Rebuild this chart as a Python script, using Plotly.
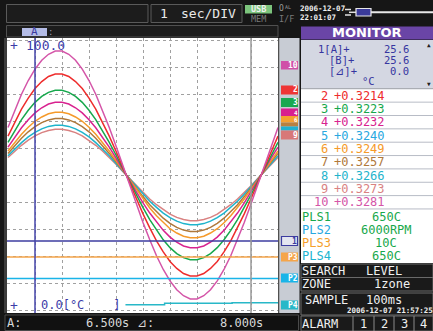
import plotly.graph_objects as go

W, H = 433, 331
MONO = "DejaVu Sans Mono"

# ---------------- data ----------------
time_s = [0, 0.25, 0.5, 0.75, 1, 1.25, 1.5, 1.75, 2, 2.25, 2.5, 2.75, 3, 3.25, 3.5, 3.75,
          4, 4.25, 4.5, 4.75, 5, 5.25, 5.5, 5.75, 6, 6.25, 6.5, 6.75, 7, 7.25, 7.5, 7.75,
          8, 8.25, 8.5, 8.75, 9, 9.25, 9.5, 9.75, 10]

ch10 = [67.6, 74.0, 79.9, 85.0, 89.2, 92.5, 94.7, 95.9, 95.9, 94.7, 92.5, 89.2, 85.0, 79.9, 74.0, 67.6,
        60.7, 53.6, 46.4, 39.3, 32.4, 26.0, 20.1, 15.0, 10.8, 7.5, 5.3, 4.1, 4.1, 5.3, 7.5, 10.8,
        15.0, 20.1, 26.0, 32.4, 39.3, 46.4, 53.6, 60.7, 67.6]
ch2 = [64.4, 69.6, 74.4, 78.5, 82.0, 84.6, 86.5, 87.4, 87.4, 86.5, 84.6, 82.0, 78.5, 74.4, 69.6, 64.4,
       58.8, 52.9, 47.1, 41.2, 35.6, 30.4, 25.6, 21.5, 18.0, 15.4, 13.5, 12.6, 12.6, 13.5, 15.4, 18.0,
       21.5, 25.6, 30.4, 35.6, 41.2, 47.1, 52.9, 58.8, 64.4]
ch3 = [62.1, 66.5, 70.5, 74.0, 76.9, 79.1, 80.6, 81.4, 81.4, 80.6, 79.1, 76.9, 74.0, 70.5, 66.5, 62.1,
       57.4, 52.5, 47.5, 42.6, 37.9, 33.5, 29.5, 26.0, 23.1, 20.9, 19.4, 18.6, 18.6, 19.4, 20.9, 23.1,
       26.0, 29.5, 33.5, 37.9, 42.6, 47.5, 52.5, 57.4, 62.1]
ch4 = [60.3, 64.1, 67.5, 70.5, 73.0, 74.9, 76.3, 76.9, 76.9, 76.3, 74.9, 73.0, 70.5, 67.5, 64.1, 60.3,
       56.3, 52.1, 47.9, 43.7, 39.7, 35.9, 32.5, 29.5, 27.0, 25.1, 23.7, 23.1, 23.1, 23.7, 25.1, 27.0,
       29.5, 32.5, 35.9, 39.7, 43.7, 47.9, 52.1, 56.3, 60.3]
ch6 = [58.9, 62.2, 65.1, 67.7, 69.9, 71.5, 72.7, 73.2, 73.2, 72.7, 71.5, 69.9, 67.7, 65.1, 62.2, 58.9,
       55.4, 51.8, 48.2, 44.6, 41.1, 37.8, 34.9, 32.3, 30.1, 28.5, 27.3, 26.8, 26.8, 27.3, 28.5, 30.1,
       32.3, 34.9, 37.8, 41.1, 44.6, 48.2, 51.8, 55.4, 58.9]
ch7 = [58.0, 61.0, 63.6, 66.0, 67.9, 69.4, 70.4, 70.9, 70.9, 70.4, 69.4, 67.9, 66.0, 63.6, 61.0, 58.0,
       54.9, 51.6, 48.4, 45.1, 42.0, 39.0, 36.4, 34.0, 32.1, 30.6, 29.6, 29.1, 29.1, 29.6, 30.6, 32.1,
       34.0, 36.4, 39.0, 42.0, 45.1, 48.4, 51.6, 54.9, 58.0]
ch8 = [57.1, 59.7, 62.0, 64.1, 65.8, 67.1, 68.0, 68.4, 68.4, 68.0, 67.1, 65.8, 64.1, 62.0, 59.7, 57.1,
       54.3, 51.5, 48.5, 45.7, 42.9, 40.3, 38.0, 35.9, 34.2, 32.9, 32.0, 31.6, 31.6, 32.0, 32.9, 34.2,
       35.9, 38.0, 40.3, 42.9, 45.7, 48.5, 51.5, 54.3, 57.1]
ch9 = [56.5, 58.9, 61.0, 62.9, 64.5, 65.7, 66.5, 66.9, 66.9, 66.5, 65.7, 64.5, 62.9, 61.0, 58.9, 56.5,
       54.0, 51.3, 48.7, 46.0, 43.5, 41.1, 39.0, 37.1, 35.5, 34.3, 33.5, 33.1, 33.1, 33.5, 34.3, 35.5,
       37.1, 39.0, 41.1, 43.5, 46.0, 48.7, 51.3, 54.0, 56.5]

ch1_value = 25.6
p3_value = 19.6
p2_value = 11.7
p4_t = [4.35, 5.8, 8.3, 10.0]
p4_v = [1.9, 2.5, 2.7, 2.7]

cursor_a_t = 1.0
cursor_b_t = 9.0

monitor_ch = ["2", "3", "4", "5", "6", "7", "8", "9", "10"]
monitor_val = ["+0.3214", "+0.3223", "+0.3232", "+0.3240", "+0.3249", "+0.3257", "+0.3266", "+0.3273", "+0.3281"]
monitor_col = ["#ee2c2c", "#16a84c", "#d8228f", "#28a8e0", "#f59a2a", "#b0783a", "#1eb4cc", "#d98282", "#d455a8"]

pls_names = ["PLS1", "PLS2", "PLS3", "PLS4"]
pls_vals = ["650C", "6000RPM", "10C", "650C"]
pls_cols = ["#18a84c", "#28a8e0", "#f5a02a", "#20b4d0"]

# ---------------- helpers ----------------
def px(x):
    return x / W

def py(y):
    return 1 - y / H

shapes = []
annots = []

def rect(x0, y0, x1, y1, fill=None, line=None, lw=1, layer="above"):
    shapes.append(dict(type="rect", xref="paper", yref="paper",
                       x0=px(x0), x1=px(x1), y0=py(y1), y1=py(y0),
                       fillcolor=fill if fill else "rgba(0,0,0,0)",
                       line=dict(color=line if line else "rgba(0,0,0,0)", width=lw if line else 0),
                       layer=layer))

def hline(x0, x1, y, color, lw=1):
    shapes.append(dict(type="line", xref="paper", yref="paper", x0=px(x0), x1=px(x1),
                       y0=py(y), y1=py(y), line=dict(color=color, width=lw), layer="above"))

def vline(x, y0, y1, color, lw=1):
    shapes.append(dict(type="line", xref="paper", yref="paper", x0=px(x), x1=px(x),
                       y0=py(y0), y1=py(y1), line=dict(color=color, width=lw), layer="above"))

def txt(x, y, s, color, size=12.5, anchor="left", bold=False, family=MONO):
    if bold:
        s = "<b>" + s + "</b>"
    annots.append(dict(x=px(x), y=py(y), xref="paper", yref="paper", text=s, showarrow=False,
                       xanchor=anchor, yanchor="middle", borderpad=0, borderwidth=0,
                       font=dict(family=family, size=size, color=color)))

# ---------------- figure ----------------
fig = go.Figure()

curves = [(ch9, "#d98282"), (ch8, "#1eb4cc"), (ch7, "#b0783a"), (ch6, "#f59a2a"),
          (ch4, "#d8228f"), (ch3, "#16a84c"), (ch2, "#ee2c2c"), (ch10, "#d455a8")]
for ys, col in curves:
    fig.add_trace(go.Scatter(x=time_s, y=ys, mode="lines", line=dict(color=col, width=1.5),
                             hoverinfo="skip"))

xmin, xmax = -1 / 27, 10.0
fig.add_trace(go.Scatter(x=[xmin, xmax], y=[ch1_value, ch1_value], mode="lines",
                         line=dict(color="#3c3ca0", width=1.5), hoverinfo="skip"))
fig.add_trace(go.Scatter(x=[xmin, xmax], y=[p3_value, p3_value], mode="lines",
                         line=dict(color="#f5a54a", width=1.5), hoverinfo="skip"))
fig.add_trace(go.Scatter(x=[xmin, xmax], y=[p2_value, p2_value], mode="lines",
                         line=dict(color="#1ab4e8", width=1.5), hoverinfo="skip"))
fig.add_trace(go.Scatter(x=p4_t, y=p4_v, mode="lines", line=dict(color="#28b8c8", width=1.5, shape="hv"),
                         hoverinfo="skip"))

# cursors
shapes.append(dict(type="line", xref="x", yref="paper", x0=cursor_a_t, x1=cursor_a_t,
                   y0=py(313), y1=py(38), line=dict(color="#4444aa", width=1.5), layer="above"))
shapes.append(dict(type="line", xref="x", yref="paper", x0=cursor_b_t, x1=cursor_b_t,
                   y0=py(313), y1=py(38), line=dict(color="#9a9a9a", width=1.5), layer="above"))

# ----- top bar -----
rect(6.5, 4.5, 148, 22.5, fill="#1c1c1c", line="#5a5a5a")
rect(151, 4.5, 242, 22.5, fill="#1c1c1c", line="#5a5a5a")
txt(160, 14, "1", "#e8e8e8", 13)
txt(181, 14, "sec/DIV", "#e8e8e8", 13)
rect(245, 5, 272, 13.5, fill="#7cc47c")
txt(258.5, 9.3, "USB", "#f0f0f0", 8.5, anchor="center", bold=True)
txt(258.5, 18.7, "MEM", "#7a7a7a", 8.5, anchor="center")
txt(279, 8.5, "O", "#9a9a9a", 8)
txt(285, 6.5, "AL", "#9a9a9a", 5)
txt(286, 18.7, "I/F", "#7a7a7a", 8.5, anchor="center")
txt(300, 8, "2006-12-07", "#f0f0f0", 7.5, bold=True)
txt(300, 17, "22:01:07", "#f0f0f0", 7.5, bold=True)
hline(345, 351, 9.5, "#e0e0e0", 1.5)
hline(345, 351, 15, "#e0e0e0", 1.5)
hline(349, 356, 12.3, "#e0e0e0", 1.5)
rect(356, 8.5, 371, 16, fill="#3a3a9a", line="#e8e8e8", lw=1.2)
rect(371, 11.3, 433, 13.3, fill="#e8e8e8")

# ----- second row -----
rect(6.5, 25.5, 278, 37, fill="#1c1c1c", line="#505050")
rect(22, 28, 47, 36, fill="#b4bce6")
txt(34.5, 32, "A", "#3a3aa0", 11, anchor="center")
txt(47.5, 32, ":", "#9a9aa8", 9)

# ----- plot frame / marker strip -----
rect(4, 38, 7, 313, fill="#3c3c3c")
rect(279, 38, 299.5, 313, fill="#c8ccd4")
vline(279, 38, 313, "#8a8a8a", 1)

txt(10, 46, "+", "#3c3ca8", 13)
txt(26, 46, "100.0", "#3c3ca8", 13)
txt(10, 305, "+", "#3c3ca8", 13)
txt(41, 305, "0.0[°C    ]", "#3c3ca8", 12)

# channel markers
markers = [
    (61, 69.5, "#d050a8", "10"),
    (85.5, 94.5, "#ee3535", "2"),
    (98, 107, "#18a850", "3"),
    (108.5, 116, "#d8208f", "4"),
    (116, 122.5, "#f5a030", "6"),
    (122.5, 126.5, "#b88040", ""),
    (126.5, 130.5, "#20b0d0", ""),
    (130.5, 139.5, "#d87878", "9"),
]
for y0, y1, col, lab in markers:
    rect(281, y0, 298, y1, fill=col)
    if lab:
        sz = 8 if (y1 - y0) > 7.5 else 6
        txt(297.5, (y0 + y1) / 2, lab, "#ffffff", sz, anchor="right", bold=True)

rect(281.5, 236.5, 297.5, 245.5, fill="#e4e6f0", line="#3c3ca0", lw=1.2)
txt(297, 241, "1", "#3c3ca0", 8, anchor="right", bold=True)
rect(281, 252.5, 298, 261.5, fill="#f5a54a")
txt(297.5, 257, "P3", "#ffffff", 8, anchor="right", bold=True)
rect(281, 273.5, 298, 282.5, fill="#1ab4e8")
txt(297.5, 278, "P2", "#ffffff", 8, anchor="right", bold=True)
rect(281, 300.5, 298, 309.5, fill="#28b8c8")
txt(297.5, 305, "P4", "#ffffff", 8, anchor="right", bold=True)

# ----- bottom bar -----
rect(5, 315, 298.5, 330.5, fill="#111111", line="#4a4a4a")
txt(7, 322.5, "A:", "#d8d8d8", 12)
txt(129, 322.5, "6.500s", "#d8d8d8", 12, anchor="right")
txt(137, 322.5, "⊿:", "#d8d8d8", 12)
txt(263, 322.5, "8.000s", "#d8d8d8", 12, anchor="right")

# ----- right monitor panel -----
rect(301, 26.5, 433, 39.5, fill="#6a45a6")
txt(367, 33, "MONITOR", "#ffffff", 13, anchor="center", bold=True, family="DejaVu Sans")
rect(301, 40, 433, 88, fill="#d4d7e2")
navy = "#3535a0"
txt(318, 48.7, "1[A]+", navy, 10.5)
txt(409, 48.7, "25.6", navy, 10.5, anchor="right")
txt(329, 59.8, "[B]+", navy, 10.5)
txt(409, 59.8, "25.6", navy, 10.5, anchor="right")
txt(329, 70.8, "[⊿]+", navy, 10.5)
txt(409, 70.8, "0.0", navy, 10.5, anchor="right")
txt(362, 80.8, "°C", navy, 10.5)
txt(428.5, 45, "▲", "#222222", 6, anchor="center")
txt(428.5, 83, "▼", "#222222", 6, anchor="center")

rect(301, 88.5, 433, 263, fill="#ffffff")
for k in range(10):
    hline(301, 433, 88.8 + 13.35 * k, "#b8bcc6", 1)
for k, (c, v, col) in enumerate(zip(monitor_ch, monitor_val, monitor_col)):
    yc = 95.5 + 13.35 * k
    txt(328, yc, c, col, 12, anchor="right")
    txt(334, yc, v, col, 12)

for k, (nm, v, col) in enumerate(zip(pls_names, pls_vals, pls_cols)):
    yc = 217 + 13.1 * k
    txt(302, yc, nm, col, 12)
    txt(386, yc, v, "#18a84c", 12, anchor="center")

rect(301, 264, 433, 277.5, fill="#1a1a1a", line="#6a6a6a")
txt(302, 270.5, "SEARCH", "#f0f0f0", 12)
txt(366, 270.5, "LEVEL", "#f0f0f0", 12)
rect(301, 277.5, 433, 291, fill="#1a1a1a", line="#6a6a6a")
txt(302, 284, "ZONE", "#f0f0f0", 12)
txt(374, 284, "1zone", "#f0f0f0", 12)

rect(301, 293, 433, 315, fill="#1a1a1a", line="#6a6a6a")
txt(305, 299.5, "SAMPLE", "#f0f0f0", 12)
txt(366, 299.5, "100ms", "#f0f0f0", 12)
txt(433, 310.5, "2006-12-07 21:57:25", "#f0f0f0", 7.5, anchor="right", bold=True)

rect(301, 316, 433, 331, fill="#1a1a1a", line="#6a6a6a")
txt(302, 323.5, "ALARM", "#f0f0f0", 12)
for xs in [353, 374, 394, 414]:
    vline(xs, 316, 331, "#8a8a8a", 1)
for xc, d in zip([363.5, 384, 404, 423.5], ["1", "2", "3", "4"]):
    txt(xc, 323.5, d, "#f0f0f0", 12, anchor="center")

fig.update_layout(
    width=W, height=H,
    margin=dict(l=0, r=0, t=0, b=0),
    paper_bgcolor="#161616",
    plot_bgcolor="#ffffff",
    showlegend=False,
    xaxis=dict(domain=[px(7), px(278)], range=[xmin, xmax], tick0=0, dtick=1,
               showgrid=True, gridcolor="#a0a0a0", griddash="dot", gridwidth=1,
               zeroline=False, showticklabels=False, ticks="", showline=False, fixedrange=True),
    yaxis=dict(domain=[py(313), py(38)], range=[(310 - 313) / 2.7, (310 - 38) / 2.7], tick0=0, dtick=10,
               showgrid=True, gridcolor="#a0a0a0", griddash="dot", gridwidth=1,
               zeroline=False, showticklabels=False, ticks="", showline=False, fixedrange=True),
    shapes=shapes,
    annotations=annots,
)

fig.write_html("out.html", config={"displayModeBar": False},
               post_script="document.body.style.margin='0';document.body.style.overflow='hidden';")
